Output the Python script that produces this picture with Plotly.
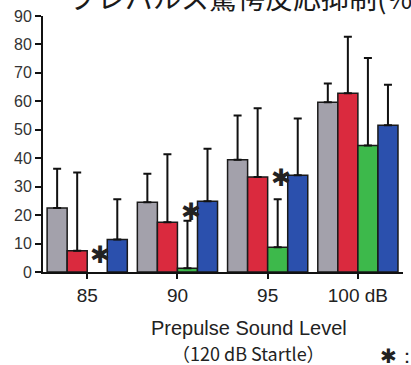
import plotly.graph_objects as go

categories = ["85", "90", "95", "100 dB"]
series_names = ["gray", "red", "green", "blue"]
gray_vals = [22.5, 24.5, 39.5, 59.7]
red_vals = [7.5, 17.5, 33.4, 62.8]
green_vals = [None, 1.3, 8.7, 44.5]
blue_vals = [11.4, 24.9, 34.0, 51.6]
gray_err = [36.3, 34.5, 55.0, 66.3]
red_err = [35.0, 41.4, 57.6, 82.7]
green_err = [None, 18.0, 25.6, 75.2]
blue_err = [25.6, 43.3, 54.0, 65.8]
sig_idx = [0, 1, 2]
sig_y = [6.0, 21.0, 33.0]
y_ticks = [0, 10, 20, 30, 40, 50, 60, 70, 80, 90]

colors = ["#a3a1ab", "#da2a3e", "#3db94b", "#2b50ad"]
vals = [gray_vals, red_vals, green_vals, blue_vals]
errs = [gray_err, red_err, green_err, blue_err]

xs = list(range(len(categories)))
fig = go.Figure()
for name, v, e, c in zip(series_names, vals, errs, colors):
    plus = [(ee - vv) if (vv is not None and ee is not None) else None for vv, ee in zip(v, e)]
    fig.add_trace(go.Bar(
        x=xs, y=v, name=name,
        marker=dict(color=c, line=dict(color="#1a1a1a", width=1.5)),
        error_y=dict(type="data", symmetric=False, array=plus,
                     arrayminus=[0] * len(v), color="#111111",
                     thickness=2, width=4),
    ))

for i, yv in zip(sig_idx, sig_y):
    fig.add_annotation(x=i + 0.145, y=yv, xref="x", yref="y", text="✱",
                       showarrow=False, font=dict(family="DejaVu Sans", size=24, color="#222222"))

W, H = 411, 365
L, R, T, B = 43, 8, 13, 92.5
pw, ph = W - L - R, H - T - B

def px(xp):
    return (xp - L) / pw

def py(yp):
    return (H - B - yp) / ph

fig.add_annotation(x=px(67), y=py(12), xref="paper", yref="paper",
                   xanchor="left", yanchor="bottom", yshift=-4,
                   text="プレパルス驚愕反応抑制(%)", showarrow=False,
                   font=dict(family="Noto Sans CJK JP", size=28, color="#1a1a1a"))
fig.add_annotation(x=px(249), y=py(329), xref="paper", yref="paper",
                   xanchor="center", yanchor="middle",
                   text="Prepulse Sound Level", showarrow=False,
                   font=dict(family="Liberation Sans", size=20, color="#222222"))
fig.add_annotation(x=px(248), y=py(354.5), xref="paper", yref="paper",
                   xanchor="center", yanchor="middle",
                   text="（120 dB Startle）", showarrow=False,
                   font=dict(family="Noto Sans CJK JP", size=18, color="#222222"))
fig.add_annotation(x=px(378), y=py(358), xref="paper", yref="paper",
                   xanchor="left", yanchor="middle",
                   text="✱：", showarrow=False,
                   font=dict(family="DejaVu Sans", size=20, color="#222222"))

fig.update_layout(
    width=W, height=H,
    margin=dict(l=L, r=R, t=T, b=B, pad=0),
    paper_bgcolor="white", plot_bgcolor="white",
    barmode="group", bargap=10 / 90, bargroupgap=0,
    showlegend=False,
    xaxis=dict(range=[-0.49, 3.5], tickvals=xs, ticktext=categories,
               showline=True, linecolor="#111111", linewidth=2,
               ticks="outside", ticklen=5, tickwidth=2, tickcolor="#111111",
               showgrid=False, zeroline=False,
               tickfont=dict(family="Liberation Sans", size=19, color="#222222")),
    yaxis=dict(range=[0, 90], tickvals=y_ticks,
               showline=True, linecolor="#111111", linewidth=2,
               ticks="outside", ticklen=6, tickwidth=2, tickcolor="#111111",
               showgrid=False, zeroline=False,
               tickfont=dict(family="Liberation Sans", size=16, color="#333333")),
)

fig.write_html("out.html")
